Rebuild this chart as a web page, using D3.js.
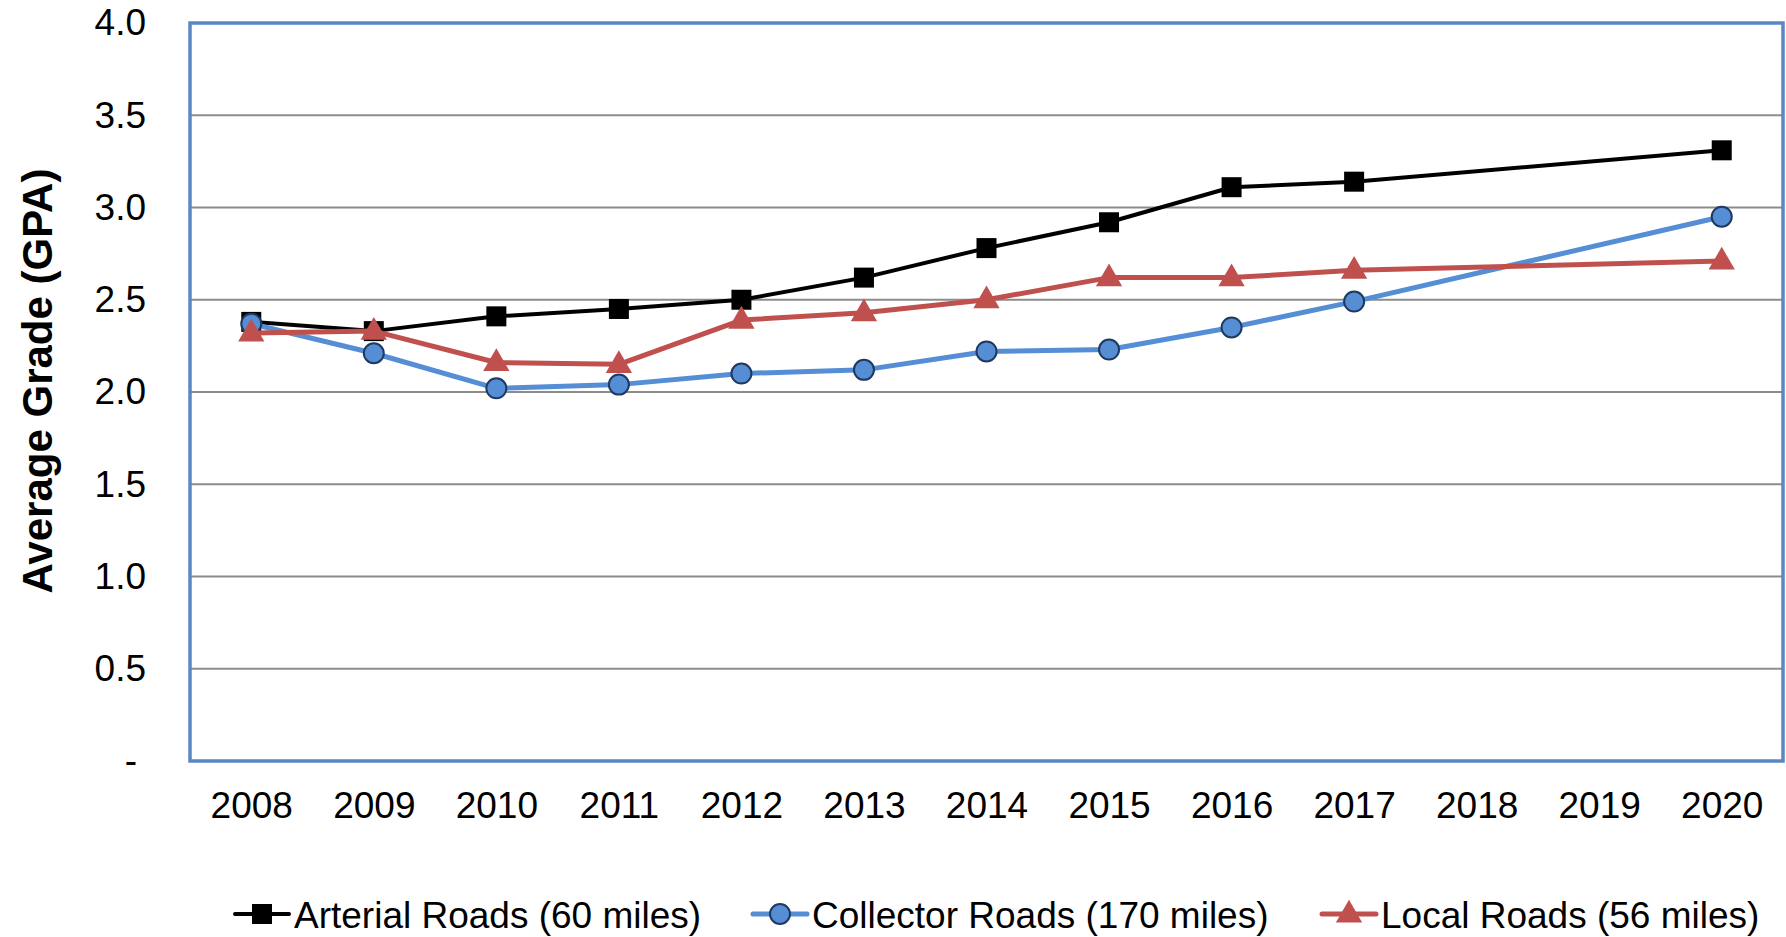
<!DOCTYPE html>
<html>
<head>
<meta charset="utf-8">
<script src="https://cdn.jsdelivr.net/npm/d3@7/dist/d3.min.js"></script>
<style>
  html, body { margin: 0; padding: 0; background: #fff; }
  svg { display: block; font-family: "Liberation Sans", Arial, sans-serif; }
</style>
</head>
<body>
<svg id="chart" width="1786" height="937"></svg>
<script>
  // data (2018 and 2019 have no survey)
  const years = ['2008', '2009', '2010', '2011', '2012', '2013', '2014', '2015', '2016', '2017', '2018', '2019', '2020'];
  const arterial = [2.38, 2.33, 2.41, 2.45, 2.50, 2.62, 2.78, 2.92, 3.11, 3.14, null, null, 3.31];
  const collector = [2.37, 2.21, 2.02, 2.04, 2.10, 2.12, 2.22, 2.23, 2.35, 2.49, null, null, 2.95];
  const local = [2.32, 2.33, 2.16, 2.15, 2.39, 2.43, 2.50, 2.62, 2.62, 2.66, null, null, 2.71];
  const yTicks = [0, 0.5, 1.0, 1.5, 2.0, 2.5, 3.0, 3.5, 4.0];
  const seriesNames = ['Arterial Roads (60 miles)', 'Collector Roads (170 miles)', 'Local Roads (56 miles)'];

  const series = [
    { name: seriesNames[0], values: arterial, color: '#000000', width: 4, marker: 'square' },
    { name: seriesNames[1], values: collector, color: '#558ED5', width: 5, marker: 'circle' },
    { name: seriesNames[2], values: local, color: '#C0504D', width: 5, marker: 'triangle' }
  ];

  const plot = { left: 190, top: 23, right: 1783, bottom: 761 };
  const svg = d3.select('#chart');

  const x = d3.scalePoint().domain(years).range([plot.left, plot.right]).padding(0.5);
  const y = d3.scaleLinear().domain([0, 4]).range([plot.bottom, plot.top]);

  // gridlines
  svg.append('g')
    .selectAll('line')
    .data(yTicks.filter((t) => t > 0 && t < 4))
    .join('line')
    .attr('x1', plot.left)
    .attr('x2', plot.right)
    .attr('y1', (d) => y(d))
    .attr('y2', (d) => y(d))
    .attr('stroke', '#8C8C8C')
    .attr('stroke-width', 2);

  // frame
  svg.append('rect')
    .attr('x', plot.left)
    .attr('y', plot.top)
    .attr('width', plot.right - plot.left)
    .attr('height', plot.bottom - plot.top)
    .attr('fill', 'none')
    .attr('stroke', '#5B87C4')
    .attr('stroke-width', 3.5);

  // y axis
  const yAxis = svg.append('g')
    .attr('transform', `translate(${plot.left},0)`)
    .call(d3.axisLeft(y).tickValues(yTicks).tickSize(0).tickPadding(44)
      .tickFormat((d) => d === 0 ? '-' : d3.format('.1f')(d)));
  yAxis.select('.domain').remove();
  yAxis.selectAll('text')
    .attr('font-size', 37)
    .attr('font-family', '"Liberation Sans", Arial, sans-serif')
    .attr('fill', '#000')
    .attr('dx', (d) => d === 0 ? -9 : 0);

  // x axis
  const xAxis = svg.append('g')
    .attr('transform', `translate(0,${plot.bottom})`)
    .call(d3.axisBottom(x).tickSize(0).tickPadding(31));
  xAxis.select('.domain').remove();
  xAxis.selectAll('text')
    .attr('font-size', 37)
    .attr('font-family', '"Liberation Sans", Arial, sans-serif')
    .attr('fill', '#000');

  // y title
  svg.append('text')
    .attr('transform', 'translate(37,381) rotate(-90)')
    .attr('text-anchor', 'middle')
    .attr('dominant-baseline', 'central')
    .attr('font-size', 42)
    .attr('font-weight', 'bold')
    .attr('fill', '#000')
    .text('Average Grade (GPA)');

  function drawMarker(g, type, color, cx, cy) {
    if (type === 'square') {
      g.append('rect')
        .attr('x', cx - 10).attr('y', cy - 10)
        .attr('width', 20).attr('height', 20)
        .attr('fill', '#000');
    } else if (type === 'circle') {
      g.append('circle')
        .attr('cx', cx).attr('cy', cy).attr('r', 10)
        .attr('fill', color)
        .attr('stroke', '#1F3A60')
        .attr('stroke-width', 2);
    } else {
      g.append('path')
        .attr('d', d3.symbol(d3.symbolTriangle, 300)())
        .attr('transform', `translate(${cx},${cy + 1})`)
        .attr('fill', color);
    }
  }

  const line = d3.line()
    .x((d) => x(d.year))
    .y((d) => y(d.value));

  series.forEach((s) => {
    const pts = years.map((year, i) => ({ year, value: s.values[i] }))
      .filter((d) => d.value != null);
    const g = svg.append('g');
    g.append('path')
      .datum(pts)
      .attr('d', line)
      .attr('fill', 'none')
      .attr('stroke', s.color)
      .attr('stroke-width', s.width)
      .attr('stroke-linejoin', 'round');
    pts.forEach((d) => drawMarker(g, s.marker, s.color, x(d.year), y(d.value)));
  });

  // legend
  const legendX = [235, 753, 1322];
  const legendY = 914;
  series.forEach((s, i) => {
    const g = svg.append('g');
    const x0 = legendX[i];
    g.append('line')
      .attr('x1', x0).attr('x2', x0 + 54)
      .attr('y1', legendY).attr('y2', legendY)
      .attr('stroke', s.color)
      .attr('stroke-width', s.width)
      .attr('stroke-linecap', 'round');
    drawMarker(g, s.marker, s.color, x0 + 27, legendY);
    g.append('text')
      .attr('x', x0 + 59)
      .attr('y', 928)
      .attr('font-size', 37)
      .attr('fill', '#000')
      .text(s.name);
  });
</script>
</body>
</html>
